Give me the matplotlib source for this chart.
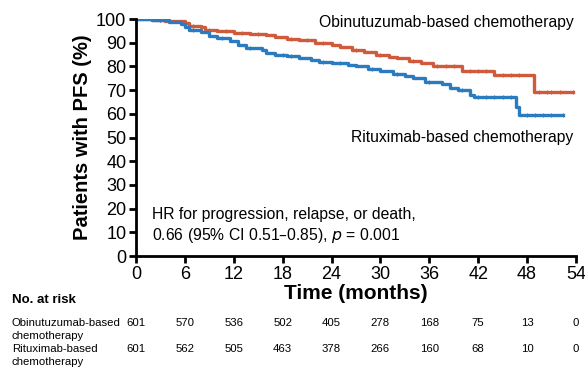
import numpy as np
import matplotlib.pyplot as plt

plt.rcParams['font.family'] = ['Liberation Sans', 'DejaVu Sans']

# Kaplan-Meier step data (months, % PFS)
obi_t = [0, 2, 3.5, 5, 6, 6.5, 8, 8.5, 10, 12, 14, 16, 17, 18.5, 20, 22, 24, 25,
         26.5, 28, 29.5, 31, 32, 33.5, 35, 36.5, 40, 44, 48.8, 53.6]
obi_s = [100, 99.7, 99.3, 99, 98.5, 97, 96.5, 95.5, 94.8, 94.3, 93.8, 93.3, 92.5,
         91.5, 91, 90, 89, 88, 87, 86, 85, 84, 83.5, 82.2, 81.5, 80, 78, 76.2, 69.3, 69.3]

rit_t = [0, 2, 4, 5.5, 6, 6.5, 8, 9, 10, 11.5, 12.5, 13.5, 15.5, 16, 17, 18.5, 20,
         21.5, 22.5, 24, 26, 27, 28.5, 30, 31.5, 33, 34, 35.5, 37.5, 38.5, 39.5, 41,
         41.5, 46.7, 47, 52.4]
rit_s = [100, 99.5, 98.8, 98, 96.5, 95.3, 94.5, 93, 92, 90.8, 89, 87.6, 86.8, 85.5,
         84.8, 84.3, 83.5, 82.7, 82, 81.5, 80.7, 80, 79, 78, 77, 76, 75, 73.5, 72.5,
         71, 70, 68, 67.3, 63, 59.5, 59.5]

# censoring tick times
obi_cens = [3, 7, 9, 11, 13, 15, 19, 21, 23, 27, 30, 34, 37, 38, 39, 41, 42, 43,
            45, 46, 47, 49.5, 50.5, 51, 52, 53.6]
rit_cens = [3, 7, 10.5, 14, 18, 19, 23, 25, 29, 32, 36, 40, 42, 43, 44, 45, 46,
            48, 49, 50, 51, 52.4]

months = [0, 6, 12, 18, 24, 30, 36, 42, 48, 54]
obi_risk = [601, 570, 536, 502, 405, 278, 168, 75, 13, 0]
rit_risk = [601, 562, 505, 463, 378, 266, 160, 68, 10, 0]

orange = '#cf5a3c'
blue = '#2a7bc0'

fig = plt.figure(figsize=(5.85, 3.68), dpi=100)
ax = fig.add_axes([0.2325, 0.3043, 0.752, 0.644])

ax.step(obi_t, obi_s, where='post', color=orange, lw=2.4)
ax.step(rit_t, rit_s, where='post', color=blue, lw=2.4)


def surv_at(t, ts, ss):
    i = np.searchsorted(ts, t, side='right') - 1
    return ss[i]


ax.plot(obi_cens, [surv_at(t, obi_t, obi_s) for t in obi_cens], ls='none',
        marker='|', ms=3.5, mew=0.8, color=orange)
ax.plot(rit_cens, [surv_at(t, rit_t, rit_s) for t in rit_cens], ls='none',
        marker='|', ms=3.5, mew=0.8, color=blue)

ax.set_xlim(0, 54)
ax.set_ylim(0, 100)
ax.set_xticks(months)
ax.set_yticks(range(0, 101, 10))
ax.spines['top'].set_visible(False)
ax.spines['right'].set_visible(False)
ax.spines['left'].set_linewidth(2)
ax.spines['bottom'].set_linewidth(2)
ax.tick_params(width=2, length=5, labelsize=13, pad=2)
ax.set_xlabel('Time (months)', fontsize=15, fontweight='bold', labelpad=1)
ax.set_ylabel('Patients with PFS (%)', fontsize=14.5, fontweight='bold', labelpad=3)

ax.text(53.7, 98.5, 'Obinutuzumab-based chemotherapy', ha='right', va='center',
        fontsize=11.3)
ax.text(53.7, 50, 'Rituximab-based chemotherapy', ha='right', va='center',
        fontsize=11.3)
ax.text(2, 17.5, 'HR for progression, relapse, or death,', fontsize=11.3,
        va='center')
ax.text(2, 8.5, '0.66 (95% CI 0.51\u20130.85), $\\it{p}$ = 0.001', fontsize=11.3,
        va='center')

# number at risk table
fig.text(12 / 585, 1 - 300 / 368, 'No. at risk', fontsize=9.5, fontweight='bold',
         va='center')
fig.text(12 / 585, 1 - 323 / 368, 'Obinutuzumab-based', fontsize=8.2, va='center')
fig.text(12 / 585, 1 - 336 / 368, 'chemotherapy', fontsize=8.2, va='center')
fig.text(12 / 585, 1 - 349 / 368, 'Rituximab-based', fontsize=8.2, va='center')
fig.text(12 / 585, 1 - 362 / 368, 'chemotherapy', fontsize=8.2, va='center')
trans = ax.get_xaxis_transform()
for m, a, b in zip(months, obi_risk, rit_risk):
    ax.text(m, -(323 - 256) / 237, str(a), transform=trans, ha='center',
            va='center', fontsize=8.2, clip_on=False)
    ax.text(m, -(349 - 256) / 237, str(b), transform=trans, ha='center',
            va='center', fontsize=8.2, clip_on=False)

fig.savefig('out.png', dpi=100)
